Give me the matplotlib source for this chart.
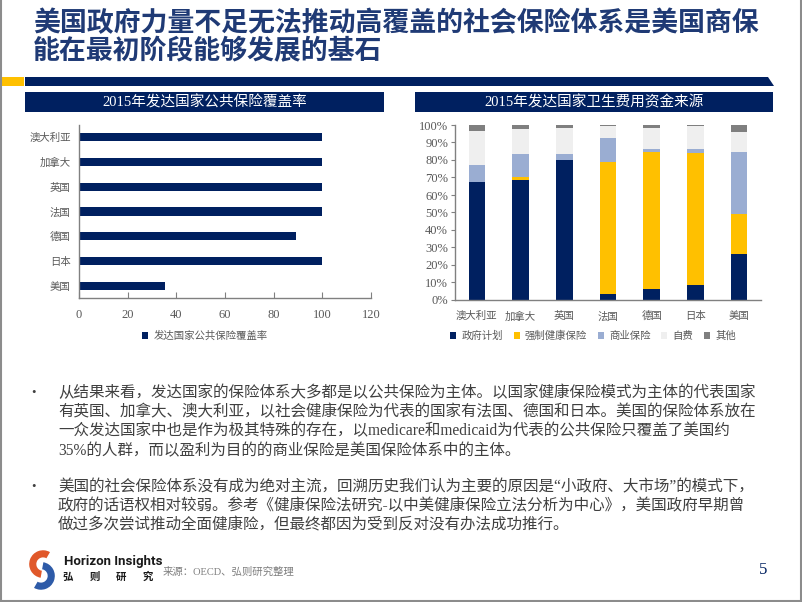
import matplotlib
matplotlib.use("Agg")
import matplotlib.pyplot as plt
from matplotlib.patches import Rectangle, Polygon, Wedge
import numpy as np

plt.rcParams['font.family'] = ['Liberation Serif', 'Noto Sans CJK SC', 'DejaVu Sans']

# ---------------- data ----------------
countries = ['澳大利亚', '加拿大', '英国', '法国', '德国', '日本', '美国']
coverage = [100, 100, 100, 100, 89.3, 100, 35.5]
coverage_label = '发达国家公共保险覆盖率'

gov = [67.2, 68.8, 79.8, 3.6, 6.5, 8.4, 26.5]
compulsory = [0.0, 1.5, 0.0, 75.1, 78.3, 75.4, 22.8]
commercial = [9.8, 12.9, 3.4, 13.7, 1.3, 2.5, 35.3]
self_pay = [19.8, 14.7, 14.9, 7.0, 12.4, 13.1, 11.2]
other = [3.2, 2.1, 1.9, 0.6, 1.5, 0.6, 4.2]
series_names = ['政府计划', '强制健康保险', '商业保险', '自费', '其他']

title_lines = ['美国政府力量不足无法推动高覆盖的社会保险体系是美国商保',
               '能在最初阶段能够发展的基石']
left_title = '2015年发达国家公共保险覆盖率'
right_title = '2015年发达国家卫生费用资金来源'
para1 = ['从结果来看，发达国家的保险体系大多都是以公共保险为主体。以国家健康保险模式为主体的代表国家',
         '有英国、加拿大、澳大利亚，以社会健康保险为代表的国家有法国、德国和日本。美国的保险体系放在',
         '一众发达国家中也是作为极其特殊的存在，以medicare和medicaid为代表的公共保险只覆盖了美国约',
         '35%的人群，而以盈利为目的的商业保险是美国保险体系中的主体。']
para2 = ['美国的社会保险体系没有成为绝对主流，回溯历史我们认为主要的原因是“小政府、大市场”的模式下，',
         '政府的话语权相对较弱。参考《健康保险法研究-以中美健康保险立法分析为中心》，美国政府早期曾',
         '做过多次尝试推动全面健康险，但最终都因为受到反对没有办法成功推行。']
source = '来源：OECD、弘则研究整理'
page_no = '5'

# ---------------- style ----------------
NAVY = '#002060'
GOLD = '#FFC000'
LBLUE = '#9AADD2'
LGRAY = '#EFEFEF'
DGRAY = '#7F7F7F'
TXT = '#404040'
AXC = '#595959'
TITLE_C = '#1F3A75'

W, H = 802, 602
fig = plt.figure(figsize=(W / 100, H / 100), dpi=100)

def fx(x):
    return x / W

def fy(y):
    return 1 - y / H

def rect(x0, y0, x1, y1, color, **kw):
    fig.patches.append(Rectangle((fx(x0), fy(y1)), fx(x1) - fx(x0), fy(y0) - fy(y1),
                                 transform=fig.transFigure, facecolor=color,
                                 edgecolor='none', **kw))

# border
fig.add_artist(plt.Line2D([fx(1), fx(1)], [fy(0), fy(601)], transform=fig.transFigure, color='#8c8c8c', lw=1.5))
fig.add_artist(plt.Line2D([fx(801), fx(801)], [fy(0), fy(601)], transform=fig.transFigure, color='#8c8c8c', lw=1.5))
fig.add_artist(plt.Line2D([fx(1), fx(801)], [fy(601), fy(601)], transform=fig.transFigure, color='#8c8c8c', lw=1.5))

# title
for i, t in enumerate(title_lines):
    fig.text(fx(33), fy(23 + i * 28), t, fontsize=19.4, fontweight='bold', color=TITLE_C,
             family=['Noto Sans CJK SC'], va='center', ha='left')

# header bar
rect(2, 77, 24, 86, GOLD)
fig.patches.append(Polygon([(fx(25), fy(77)), (fx(768), fy(77)), (fx(774), fy(86)), (fx(25), fy(86))],
                           closed=True, transform=fig.transFigure, facecolor=NAVY, edgecolor='none'))

# banners
rect(25, 92, 384, 112, NAVY)
fig.text(fx(204.5), fy(102), left_title, color='white', fontsize=10.5, ha='center', va='center')
rect(415, 92, 773, 112, NAVY)
fig.text(fx(594), fy(102), right_title, color='white', fontsize=10.5, ha='center', va='center')

# ---------------- left chart ----------------
ax1 = fig.add_axes([fx(79), fy(298), fx(371) - fx(79), fy(125) - fy(298)])
ypos = np.arange(len(countries))
ax1.barh(ypos, coverage, height=0.33, color=NAVY, label=coverage_label)
ax1.set_ylim(6.5, -0.5)
ax1.set_xlim(0, 120)
ax1.set_xticks(range(0, 121, 20))
ax1.set_yticks(ypos)
ax1.set_yticklabels(countries, fontsize=7.5, color=AXC)
ax1.tick_params(axis='y', length=0, pad=6)
ax1.tick_params(axis='x', direction='in', length=4, color='#808080', labelsize=9, labelcolor=AXC, pad=8)
for s in ['top', 'right']:
    ax1.spines[s].set_visible(False)
for s in ['left', 'bottom']:
    ax1.spines[s].set_color('#808080')
    ax1.spines[s].set_linewidth(1)
ax1.legend(loc='center', bbox_to_anchor=(fx(205), fy(336)), bbox_transform=fig.transFigure,
           frameon=False, fontsize=7.5, handlelength=0.6, handleheight=0.6, handletextpad=0.5,
           labelcolor=AXC)

# ---------------- right chart ----------------
ax2 = fig.add_axes([fx(455), fy(300), fx(761) - fx(455), fy(125) - fy(300)])
xpos = np.arange(len(countries))
bottoms = np.zeros(len(countries))
for vals, col, name in zip([gov, compulsory, commercial, self_pay, other],
                           [NAVY, GOLD, LBLUE, LGRAY, DGRAY], series_names):
    ax2.bar(xpos, vals, bottom=bottoms, width=0.38, color=col, label=name)
    bottoms = bottoms + np.array(vals)
ax2.set_xlim(-0.5, 6.5)
ax2.set_ylim(0, 100)
ax2.set_yticks(range(0, 101, 10))
ax2.set_yticklabels([f'{v}%' for v in range(0, 101, 10)])
ax2.set_xticks(xpos)
ax2.set_xticklabels(countries, fontsize=7.5, color=AXC)
ax2.tick_params(axis='x', length=0, pad=8)
ax2.tick_params(axis='y', direction='out', length=3, color='#808080', labelsize=9, labelcolor=AXC, pad=2)
for s in ['top', 'right']:
    ax2.spines[s].set_visible(False)
for s in ['left', 'bottom']:
    ax2.spines[s].set_color('#808080')
    ax2.spines[s].set_linewidth(1)
ax2.legend(loc='center', bbox_to_anchor=(fx(593), fy(336)), bbox_transform=fig.transFigure,
           frameon=False, fontsize=7.5, ncol=5, handlelength=0.6, handleheight=0.6,
           handletextpad=0.5, columnspacing=1.0, labelcolor=AXC)

# ---------------- body text ----------------
for lines, y0 in [(para1, 393), (para2, 487)]:
    fig.text(fx(33), fy(y0), '•', fontsize=9, color=TXT, ha='center', va='center')
    for i, line in enumerate(lines):
        fig.text(fx(58), fy(y0 + i * 19.3), line, fontsize=11.2, color=TXT, ha='left', va='center')

# ---------------- footer ----------------
lax = fig.add_axes([fx(21), fy(591), fx(63) - fx(21), fy(549) - fy(591)])
lax.set_xlim(-1, 1)
lax.set_ylim(-1, 1)
lax.set_aspect('equal')
lax.axis('off')
lax.add_patch(Wedge((0.05, 0.28), 0.66, 60, 260, width=0.34, facecolor='#E0582A', edgecolor='none'))
lax.add_patch(Wedge((-0.05, -0.28), 0.66, 240, 440, width=0.34, facecolor='#2E5BA8', edgecolor='none'))

fig.text(fx(64), fy(562), 'Horizon Insights', fontsize=9.5, fontweight='bold', color='#1a1a1a',
         family=['Liberation Sans Narrow', 'Roboto', 'DejaVu Sans'], ha='left', va='center')
for i, ch in enumerate('弘则研究'):
    fig.text(fx(68 + i * 26.5), fy(577), ch, fontsize=7.5, fontweight='bold', color='#1a1a1a',
             family=['Noto Sans CJK SC'], ha='center', va='center')
fig.text(fx(163), fy(572), source, fontsize=7.5, color=DGRAY, ha='left', va='center')
fig.text(fx(763), fy(570), page_no, fontsize=12, color=NAVY, ha='center', va='center')

fig.savefig('out.png', dpi=100)
